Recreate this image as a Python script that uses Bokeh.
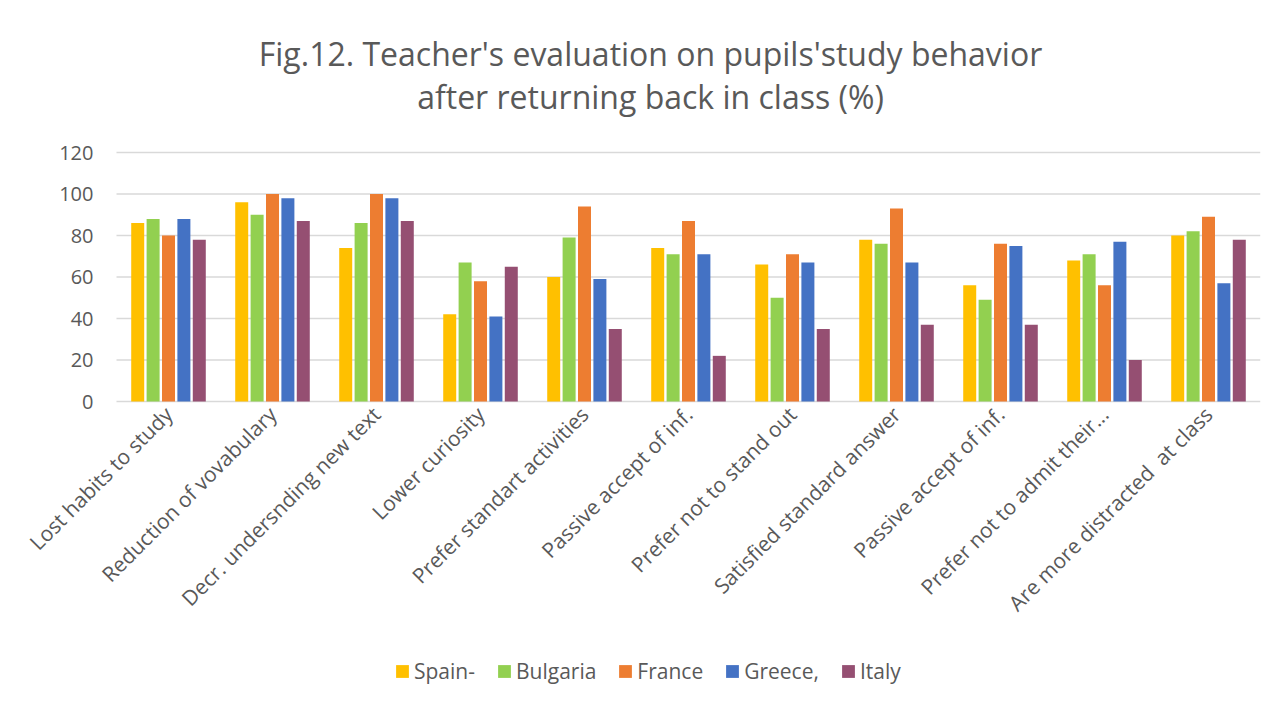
import math
from bokeh.plotting import figure
from bokeh.models import (Range1d, FixedTicker, Legend, LegendItem,
                          ColumnDataSource)
from bokeh.core.properties import value
from bokeh.transform import dodge
from bokeh.embed import file_html
from bokeh.resources import INLINE

categories = ["Lost habits to study", "Reduction of vovabulary",
              "Decr. undersnding new text", "Lower curiosity",
              "Prefer standart activities", "Passive accept of inf.",
              "Prefer not to stand out", "Satisfied standard answer",
              "Passive accept of inf.", "Prefer not to admit their...",
              "Are more distracted\u00a0 at class"]
series_names = ["Spain-", "Bulgaria", "France", "Greece,", "Italy"]
spain = [86, 96, 74, 42, 60, 74, 66, 78, 56, 68, 80]
bulgaria = [88, 90, 86, 67, 79, 71, 50, 76, 49, 71, 82]
france = [80, 100, 100, 58, 94, 87, 71, 93, 76, 56, 89]
greece = [88, 98, 98, 41, 59, 71, 67, 67, 75, 77, 57]
italy = [78, 87, 87, 65, 35, 22, 35, 37, 37, 20, 78]
y_ticks = [0, 20, 40, 60, 80, 100, 120]
title_lines = ["Fig.12. Teacher's evaluation on pupils'study behavior",
               "after returning back in class (%)"]

colors = ["#FFC000", "#92D050", "#ED7D31", "#4472C4", "#954F72"]
values = [spain, bulgaria, france, greece, italy]

FONT = "Open Sans"
GREY = "#595959"
N = len(categories)

# pixel geometry: value 0 sits 401px from the top, 120 at 152px;
# plot area starts 116px from the left, 104px per category
FRAME_H = 697
K = 249 / 120.0
Y_TOP = 401 / K
Y_BOT = Y_TOP - FRAME_H / K
CAT_PX = 104.0
X_LEFT = -0.5 - 116 / CAT_PX

src = ColumnDataSource(dict(idx=list(range(N)),
                            **{f"s{i}": v for i, v in enumerate(values)}))

p = figure(frame_width=1260, frame_height=FRAME_H, output_backend="svg",
           toolbar_location=None,
           x_range=Range1d(X_LEFT, N - 0.5),
           y_range=Range1d(Y_BOT, Y_TOP),
           min_border_left=0, min_border_right=5,
           min_border_top=0, min_border_bottom=0)
p.title.visible = False
p.outline_line_color = None
p.background_fill_color = "white"
p.border_fill_color = "white"

# horizontal gridlines across the plot area only
p.xgrid.visible = False
p.ygrid.visible = False
p.segment(x0=[-0.5] * len(y_ticks), x1=[N - 0.5] * len(y_ticks),
          y0=y_ticks, y1=y_ticks, line_color="#D9D9D9", line_width=1.5)

items = []
step = 0.148
for i, (name, col) in enumerate(zip(series_names, colors)):
    r = p.vbar(x=dodge("idx", (i - 2) * step, range=p.x_range), top=f"s{i}",
               width=0.125, source=src, fill_color=col, line_color=None)
    items.append(LegendItem(label=name, renderers=[r]))

p.yaxis.ticker = FixedTicker(ticks=y_ticks)
p.yaxis.fixed_location = -0.5
p.xaxis.ticker = FixedTicker(ticks=list(range(N)))
p.xaxis.major_label_overrides = {i: c for i, c in enumerate(categories)}
p.xaxis.major_label_orientation = math.pi / 4
p.xaxis.fixed_location = 0
for ax in (p.xaxis[0], p.yaxis[0]):
    ax.axis_line_color = None
    ax.major_tick_line_color = None
    ax.minor_tick_line_color = None
    ax.major_label_text_font = FONT
    ax.major_label_text_color = GREY
p.xaxis.major_label_text_font_size = "21px"
p.yaxis.major_label_text_font_size = "20px"
p.yaxis.major_label_standoff = 17
p.xaxis.major_label_standoff = 3

# title, centred on the page (x in category units, y in value units)
p.text(x=[(650 - 116) / CAT_PX - 0.5] * 2,
       y=[(401 - 53) / K, (401 - 96) / K], text=title_lines,
       text_align="center", text_baseline="middle",
       text_font=value(FONT), text_font_size="32px", text_color=GREY)

legend = Legend(items=items, orientation="horizontal", location=(394, 12),
                label_text_font=FONT, label_text_font_size="21px",
                label_text_color=GREY, glyph_width=16, glyph_height=16,
                spacing=21, label_standoff=4, border_line_color=None,
                background_fill_alpha=0, padding=5, margin=0)
p.add_layout(legend, "center")

open("out.html", "w").write(file_html(p, INLINE))
